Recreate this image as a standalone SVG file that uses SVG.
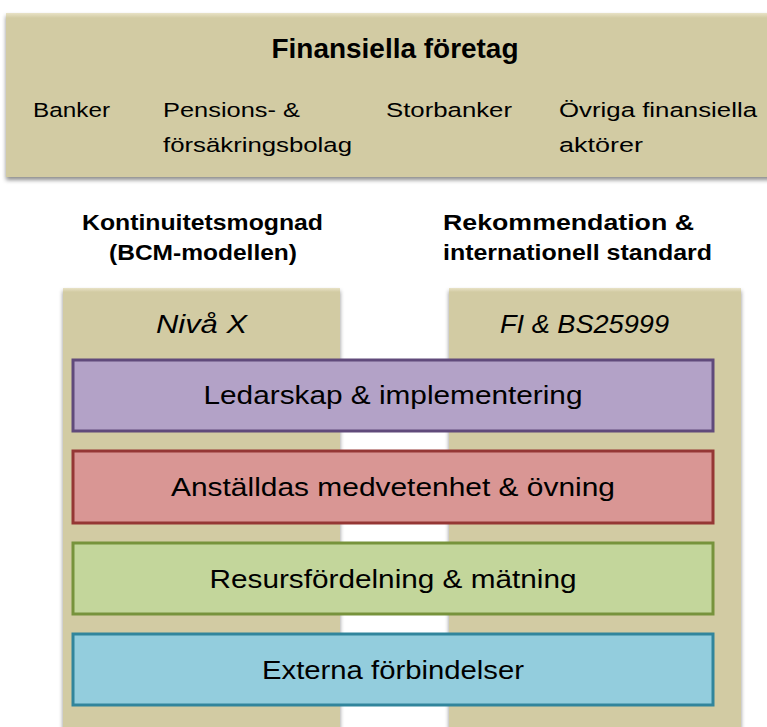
<svg xmlns="http://www.w3.org/2000/svg" width="767" height="727" viewBox="0 0 767 727">
<style>
text{font-family:"Liberation Sans",Arial,sans-serif;fill:#000}
.tan{fill:#D2CBA3}
.b{font-weight:bold}
.i{font-style:italic}
.bar{font-size:26px;text-anchor:middle}
.it{font-size:25px}
.hd{font-size:22px;font-weight:bold}
.item{font-size:20.5px}
</style>
<defs>
<linearGradient id="topHi" x1="0" y1="0" x2="0" y2="1">
<stop offset="0" stop-color="#E8E2C6"/><stop offset="1" stop-color="#D2CBA3"/>
</linearGradient>
<filter id="sh" x="-5%" y="-5%" width="110%" height="115%">
<feDropShadow dx="0" dy="3" stdDeviation="2" flood-color="#000" flood-opacity="0.45"/>
</filter>
</defs>
<g id="top">
<rect x="6" y="13" width="770" height="164" class="tan" filter="url(#sh)"/>
<rect x="6" y="13" width="770" height="5" fill="url(#topHi)"/>
<text x="395" y="58" class="b" font-size="28" text-anchor="middle" textLength="247" lengthAdjust="spacingAndGlyphs">Finansiella företag</text>
<text x="33" y="117" class="item" textLength="77" lengthAdjust="spacingAndGlyphs">Banker</text>
<text x="163" y="117" class="item" textLength="137" lengthAdjust="spacingAndGlyphs">Pensions- &amp;</text>
<text x="163" y="152" class="item" textLength="189" lengthAdjust="spacingAndGlyphs">försäkringsbolag</text>
<text x="386" y="117" class="item" textLength="126" lengthAdjust="spacingAndGlyphs">Storbanker</text>
<text x="559" y="117" class="item" textLength="198" lengthAdjust="spacingAndGlyphs">Övriga finansiella</text>
<text x="559" y="152" class="item" textLength="84" lengthAdjust="spacingAndGlyphs">aktörer</text>
</g>
<g id="heading-left">
<text x="82" y="230" class="hd" textLength="241" lengthAdjust="spacingAndGlyphs">Kontinuitetsmognad</text>
<text x="109" y="260" class="hd" textLength="188" lengthAdjust="spacingAndGlyphs">(BCM-modellen)</text>
</g>
<g id="heading-right">
<text x="443" y="230" class="hd" textLength="251" lengthAdjust="spacingAndGlyphs">Rekommendation &amp;</text>
<text x="443" y="260" class="hd" textLength="269" lengthAdjust="spacingAndGlyphs">internationell standard</text>
</g>
<g id="col-left">
<rect x="63" y="288" width="277" height="450" class="tan" filter="url(#sh)"/>
<rect x="63" y="288" width="277" height="4" fill="url(#topHi)"/>
<text x="156" y="333" class="i it" textLength="91" lengthAdjust="spacingAndGlyphs">Nivå X</text>
</g>
<g id="col-right">
<rect x="449" y="288" width="292" height="450" class="tan" filter="url(#sh)"/>
<rect x="449" y="288" width="292" height="4" fill="url(#topHi)"/>
<text x="500" y="333" class="i it" textLength="169" lengthAdjust="spacingAndGlyphs">FI &amp; BS25999</text>
</g>
<g id="bar-ledarskap">
<rect x="73" y="360" width="640" height="71" fill="#B3A2C7" stroke="#604A7B" stroke-width="3"/>
<text x="393" y="404" class="bar" textLength="379" lengthAdjust="spacingAndGlyphs">Ledarskap &amp; implementering</text>
</g>
<g id="bar-anstallda">
<rect x="73" y="451" width="640" height="72" fill="#D99694" stroke="#953735" stroke-width="3"/>
<text x="393" y="496" class="bar" textLength="444" lengthAdjust="spacingAndGlyphs">Anställdas medvetenhet &amp; övning</text>
</g>
<g id="bar-resurs">
<rect x="73" y="543" width="640" height="71" fill="#C3D69B" stroke="#77933C" stroke-width="3"/>
<text x="393" y="588" class="bar" textLength="367" lengthAdjust="spacingAndGlyphs">Resursfördelning &amp; mätning</text>
</g>
<g id="bar-externa">
<rect x="73" y="634" width="640" height="71" fill="#93CDDD" stroke="#31859C" stroke-width="3"/>
<text x="393" y="679" class="bar" textLength="262" lengthAdjust="spacingAndGlyphs">Externa förbindelser</text>
</g>
<g id="connectors"/>
</svg>
